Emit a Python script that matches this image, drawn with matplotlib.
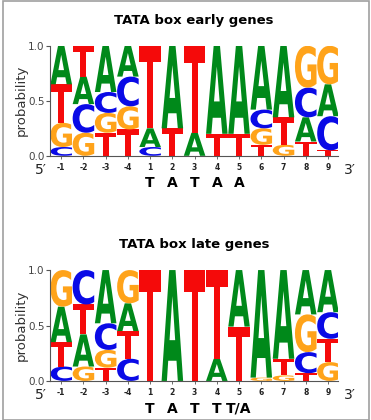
import matplotlib
matplotlib.use('Agg')
import matplotlib.pyplot as plt
from matplotlib.textpath import TextPath
from matplotlib.patches import PathPatch, Rectangle
from matplotlib.font_manager import FontProperties
from matplotlib.path import Path

#------------------------------------------------------------------------------
# DATA (probabilities, stacked bottom to top)

positions = ['-1', '-2', '-3', '-4', '1', '2', '3', '4', '5', '6', '7', '8', '9']

early_stacks = [
    [('C', 0.08), ('G', 0.22), ('T', 0.35), ('A', 0.35)],
    [('G', 0.21), ('C', 0.26), ('A', 0.25), ('T', 0.28)],
    [('T', 0.21), ('G', 0.18), ('C', 0.19), ('A', 0.42)],
    [('T', 0.24), ('G', 0.21), ('C', 0.27), ('A', 0.28)],
    [('C', 0.08), ('A', 0.17), ('T', 0.75)],
    [('T', 0.25), ('A', 0.75)],
    [('A', 0.21), ('T', 0.79)],
    [('T', 0.20), ('A', 0.80)],
    [('T', 0.20), ('A', 0.80)],
    [('T', 0.10), ('G', 0.15), ('C', 0.17), ('A', 0.58)],
    [('G', 0.10), ('T', 0.25), ('A', 0.65)],
    [('T', 0.13), ('A', 0.22), ('C', 0.27), ('G', 0.38)],
    [('T', 0.05), ('C', 0.31), ('A', 0.29), ('G', 0.35)],
]

late_stacks = [
    [('C', 0.13), ('T', 0.22), ('A', 0.32), ('G', 0.33)],
    [('G', 0.13), ('A', 0.29), ('T', 0.27), ('C', 0.31)],
    [('T', 0.12), ('G', 0.16), ('C', 0.24), ('A', 0.48)],
    [('C', 0.20), ('T', 0.25), ('A', 0.25), ('G', 0.30)],
    [('T', 1.00)],
    [('A', 1.00)],
    [('T', 1.00)],
    [('A', 0.20), ('T', 0.80)],
    [('T', 0.49), ('A', 0.51)],
    [('G', 0.03), ('A', 0.97)],
    [('G', 0.05), ('T', 0.15), ('A', 0.80)],
    [('T', 0.07), ('C', 0.19), ('G', 0.34), ('A', 0.40)],
    [('G', 0.17), ('T', 0.21), ('C', 0.24), ('A', 0.38)],
]

early_consensus = ['T', 'A', 'T', 'A', 'A']
late_consensus = ['T', 'A', 'T', 'T', 'T/A']

titles = ['TATA box early genes', 'TATA box late genes']

colors = {'A': '#00891a', 'C': '#0a0ae6', 'G': '#ffa31a', 'T': '#f50a0a'}

#------------------------------------------------------------------------------
# Letter drawing helper

fp = FontProperties(family='DejaVu Sans', weight='bold')

def draw_letter(ax, letter, x, y, w, h):
    if h <= 0:
        return
    tp = TextPath((0, 0), letter, size=1, prop=fp)
    ext = tp.get_extents()
    verts = tp.vertices.copy()
    verts[:, 0] = (verts[:, 0] - ext.x0) / ext.width * w + x - w / 2
    verts[:, 1] = (verts[:, 1] - ext.y0) / ext.height * h + y
    path = Path(verts, tp.codes)
    ax.add_patch(PathPatch(path, facecolor=colors[letter], edgecolor='none'))

#------------------------------------------------------------------------------
# PLOT

fig = plt.figure(figsize=(3.71, 4.2), dpi=100)
fig.patches.append(Rectangle((0.008, 0.0), 0.986, 0.997, transform=fig.transFigure,
                             fill=False, edgecolor='#a0a0a0', linewidth=1.2))

ax_rects = [[0.135, 0.629, 0.776, 0.262], [0.135, 0.093, 0.776, 0.264]]
all_stacks = [early_stacks, late_stacks]
all_cons = [early_consensus, late_consensus]

for k in range(2):
    ax = fig.add_axes(ax_rects[k])
    stacks = all_stacks[k]
    for i, stack in enumerate(stacks):
        base = 0.0
        for letter, p in stack:
            draw_letter(ax, letter, i, base, 0.97, p)
            base += p

    ax.set_xlim(-0.5, 12.45)
    ax.set_ylim(0, 1.0)
    for s in ['top', 'right']:
        ax.spines[s].set_visible(False)
    ax.spines['left'].set_color('#555555')
    ax.spines['bottom'].set_color('#555555')
    ax.spines['left'].set_linewidth(0.8)
    ax.spines['bottom'].set_linewidth(0.8)

    ax.set_yticks([0.0, 0.5, 1.0])
    ax.set_yticklabels(['0.0', '0.5', '1.0'], fontsize=7.5, color='#444444')
    ax.tick_params(axis='y', length=3, width=0.8, color='#555555', pad=1)
    ax.set_xticks(range(len(positions)))
    ax.set_xticklabels(positions, fontsize=5.5, fontweight='bold', color='#222222')
    ax.tick_params(axis='x', length=2, width=0.6, color='#555555', pad=3)
    ax.set_ylabel('probability', fontsize=9.5, color='#333333', labelpad=0)

    ax.text(-0.9, -0.13, '5\u2032', fontsize=10, ha='center', va='center',
            clip_on=False, color='#222222')
    ax.text(13.0, -0.13, '3\u2032', fontsize=10, ha='center', va='center',
            clip_on=False, color='#222222')

    cons = all_cons[k]
    for j, c in enumerate(cons):
        ax.text(4 + j, -0.25, c, fontsize=10, fontweight='bold', ha='center', va='center',
                clip_on=False, color='black')

    ax.set_title(titles[k], fontsize=9.5, fontweight='bold', pad=16)

fig.savefig('out.png', dpi=100)
